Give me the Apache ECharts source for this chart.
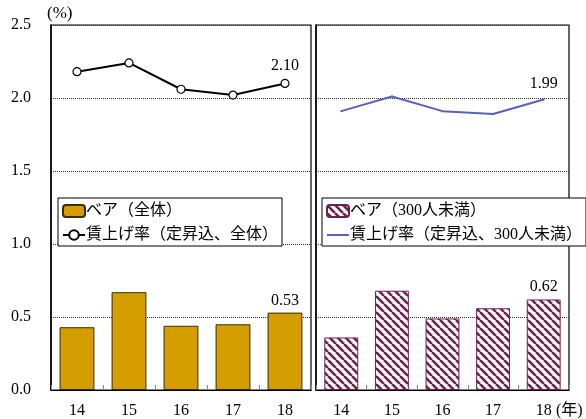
<!DOCTYPE html>
<html>
<head>
<meta charset="utf-8">
<script src="https://cdn.jsdelivr.net/npm/echarts@6/dist/echarts.min.js"></script>
<style>
  html, body { margin: 0; padding: 0; background: #fff; }
  #chart { width: 586px; height: 419px; }
</style>
</head>
<body>
<div id="chart"></div>
<script>
// 年（横軸）
const years = ["14", "15", "16", "17", "18"];
// 左パネル：全体
const baseUpAll = [0.43, 0.67, 0.44, 0.45, 0.53];
const wageRateAll = [2.18, 2.24, 2.06, 2.02, 2.10];
// 右パネル：300人未満
const baseUpSmall = [0.36, 0.68, 0.49, 0.56, 0.62];
const wageRateSmall = [1.91, 2.01, 1.91, 1.89, 1.99];
const yTicks = [0, 0.5, 1.0, 1.5, 2.0, 2.5];

const NAMES = {
  barAll: "ベア（全体）",
  lineAll: "賃上げ率（定昇込、全体）",
  barSmall: "ベア（300人未満）",
  lineSmall: "賃上げ率（定昇込、300人未満）",
};

const serif = "'Liberation Serif', 'Noto Sans CJK JP', serif";
const jp = "'Liberation Serif', 'Noto Sans CJK JP', sans-serif";

// 斜線ハッチ（右パネルの棒）
function hatch() {
  const s = 8;
  const c = document.createElement("canvas");
  c.width = s; c.height = s;
  const ctx = c.getContext("2d");
  ctx.fillStyle = "#fff";
  ctx.fillRect(0, 0, s, s);
  ctx.strokeStyle = "#6e1f4f";
  ctx.lineWidth = 2.6;
  for (const x0 of [-s, 0, s]) {
    ctx.beginPath();
    ctx.moveTo(x0, 0);
    ctx.lineTo(x0 + s, s);
    ctx.stroke();
  }
  return { image: c, repeat: "repeat" };
}

// 最終年だけラベルを出す
const lastLabeled = (arr) =>
  arr.map((v, i) => (i === arr.length - 1 ? { value: v, label: { show: true } } : v));

const valueLabel = (distance) => ({
  show: false,
  position: "top",
  distance,
  color: "#000",
  fontFamily: serif,
  fontSize: 16,
  formatter: (p) => p.value.toFixed(2),
});

const chart = echarts.init(document.getElementById("chart"));

const xAxisCommon = {
  type: "category",
  data: years,
  axisLine: { show: true, lineStyle: { color: "#000", width: 1.2 } },
  axisTick: { show: true, inside: true, length: 5, lineStyle: { color: "#888" } },
  axisLabel: { color: "#000", fontFamily: serif, fontSize: 16, margin: 13 },
};
const yAxisCommon = {
  type: "value",
  min: 0,
  max: 2.5,
  interval: 0.5,
  axisLine: { show: true, lineStyle: { color: "#000", width: 1.5 } },
  axisTick: { show: false },
  splitLine: { show: true, lineStyle: { color: "#333", type: "dotted", width: 1 } },
};
const legendCommon = {
  orient: "vertical",
  top: 198,
  backgroundColor: "#fff",
  borderColor: "#000",
  borderWidth: 1,
  borderRadius: 0,
  padding: [5, 4, 3, 4],
  itemWidth: 22,
  itemHeight: 12,
  itemGap: 8,
  symbolKeepAspect: true,
  textStyle: { color: "#000", fontFamily: jp, fontSize: 16, padding: [0, 0, 0, -4] },
};

chart.setOption({
  animation: false,
  grid: [
    { left: 51, top: 25, width: 260, bottom: 27.5, show: true, borderColor: "#000", borderWidth: 1.2 },
    { left: 316, top: 25, width: 253, bottom: 27.5, show: true, borderColor: "#000", borderWidth: 1.2 },
  ],
  xAxis: [
    { ...xAxisCommon, gridIndex: 0 },
    { ...xAxisCommon, gridIndex: 1 },
  ],
  yAxis: [
    {
      ...yAxisCommon,
      gridIndex: 0,
      axisLabel: {
        color: "#000", fontFamily: serif, fontSize: 16, margin: 20,
        formatter: (v) => (yTicks.includes(v) ? v.toFixed(1) : ""),
      },
    },
    { ...yAxisCommon, gridIndex: 1, axisLabel: { show: false } },
  ],
  legend: [
    { ...legendCommon, left: 58, data: [NAMES.barAll, NAMES.lineAll] },
    {
      ...legendCommon,
      left: 322,
      data: [NAMES.barSmall, { name: NAMES.lineSmall, icon: "path://M0,5h22v2h-22z" }],
    },
  ],
  graphic: [
    { type: "text", left: 47, top: 5, style: { text: "(%)", font: "17px " + serif, fill: "#000" } },
    { type: "text", left: 556, top: 403, style: { text: "(年)", font: "16px " + jp, fill: "#000" } },
  ],
  series: [
    {
      name: NAMES.barAll,
      type: "bar",
      xAxisIndex: 0, yAxisIndex: 0,
      barWidth: "67%",
      data: lastLabeled(baseUpAll),
      itemStyle: { color: "#d49d00", borderColor: "#3a2c00", borderWidth: 1 },
      label: valueLabel(4),
    },
    {
      name: NAMES.lineAll,
      type: "line",
      xAxisIndex: 0, yAxisIndex: 0,
      data: lastLabeled(wageRateAll),
      symbol: "circle",
      symbolSize: 8,
      lineStyle: { color: "#000", width: 2 },
      itemStyle: { color: "#fff", borderColor: "#000", borderWidth: 1.2 },
      label: valueLabel(5),
      z: 5,
    },
    {
      name: NAMES.barSmall,
      type: "bar",
      xAxisIndex: 1, yAxisIndex: 1,
      barWidth: "67%",
      data: lastLabeled(baseUpSmall),
      itemStyle: { color: hatch(), borderColor: "#6e1f4f", borderWidth: 1 },
      label: valueLabel(5),
    },
    {
      name: NAMES.lineSmall,
      type: "line",
      xAxisIndex: 1, yAxisIndex: 1,
      data: lastLabeled(wageRateSmall),
      symbol: "circle",
      symbolSize: 2,
      lineStyle: { color: "#5b5fc0", width: 2 },
      itemStyle: { color: "#5b5fc0" },
      label: valueLabel(7),
      z: 5,
    },
  ],
});
</script>
</body>
</html>
